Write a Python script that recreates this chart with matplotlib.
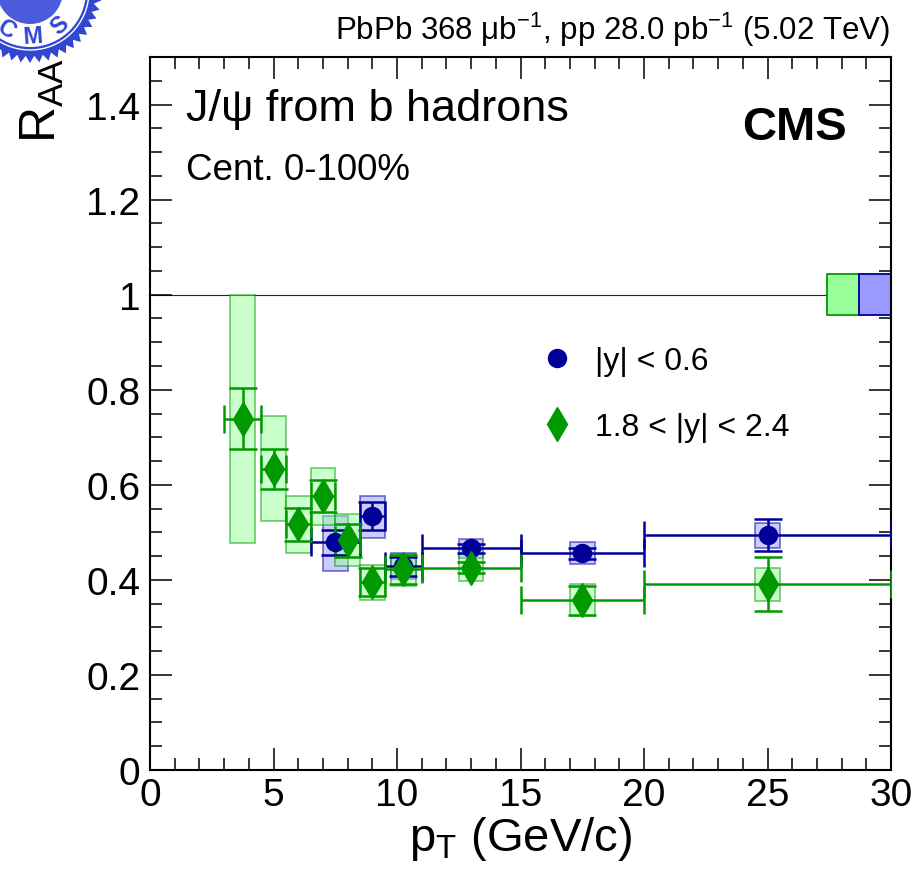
import numpy as np
import matplotlib
matplotlib.use('Agg')
import matplotlib.pyplot as plt
from matplotlib.patches import Rectangle, Polygon, Circle
from matplotlib.lines import Line2D
from matplotlib.ticker import MultipleLocator, FormatStrFormatter

plt.rcParams['font.family'] = ['Liberation Sans', 'DejaVu Sans']
plt.rcParams['mathtext.fontset'] = 'custom'
plt.rcParams['mathtext.rm'] = 'Liberation Sans'
plt.rcParams['mathtext.it'] = 'Liberation Sans'
plt.rcParams['mathtext.bf'] = 'Liberation Sans:bold'
plt.rcParams['mathtext.default'] = 'regular'

# |y| < 0.6
mid_pt = [7.5, 9.0, 10.25, 13.0, 17.5, 25.0]
mid_lo = [6.5, 8.5, 9.5, 11.0, 15.0, 20.0]
mid_hi = [8.5, 9.5, 11.0, 15.0, 20.0, 30.0]
mid_raa = [0.479, 0.534, 0.429, 0.466, 0.456, 0.494]
mid_stat = [0.026, 0.029, 0.020, 0.010, 0.012, 0.033]
mid_sys_lo = [0.418, 0.489, 0.402, 0.446, 0.433, 0.468]
mid_sys_hi = [0.534, 0.576, 0.456, 0.486, 0.479, 0.519]

# 1.8 < |y| < 2.4
fwd_pt = [3.75, 5.0, 6.0, 7.0, 8.0, 9.0, 10.25, 13.0, 17.5, 25.0]
fwd_lo = [3.0, 4.5, 5.5, 6.5, 7.5, 8.5, 9.5, 11.0, 15.0, 20.0]
fwd_hi = [4.5, 5.5, 6.5, 7.5, 8.5, 9.5, 11.0, 15.0, 20.0, 30.0]
fwd_raa = [0.739, 0.634, 0.517, 0.576, 0.483, 0.395, 0.422, 0.426, 0.357, 0.391]
fwd_stat = [0.064, 0.042, 0.035, 0.034, 0.034, 0.029, 0.030, 0.012, 0.030, 0.057]
fwd_sys_lo = [0.477, 0.523, 0.456, 0.515, 0.429, 0.357, 0.387, 0.397, 0.323, 0.355]
fwd_sys_hi = [1.000, 0.744, 0.576, 0.636, 0.538, 0.431, 0.454, 0.454, 0.391, 0.426]

# global uncertainties (drawn at R_AA = 1)
mid_glob = 0.043
fwd_glob = 0.043

blue = '#000099'
green = '#009900'

fig = plt.figure(figsize=(9.19, 8.78), dpi=100)
ax = fig.add_axes([150/919, 1-771/878, 741/919, 713/878])
ax.set_zorder(2)

ax.axhline(1.0, color='#222222', lw=0.8, zorder=1)

# systematic boxes
for x, lo, hi in zip(mid_pt, mid_sys_lo, mid_sys_hi):
    ax.add_patch(Rectangle((x-0.5, lo), 1.0, hi-lo, facecolor='#9999ff', alpha=0.5,
                           edgecolor=blue, lw=1.3, zorder=2))
for x, lo, hi in zip(fwd_pt, fwd_sys_lo, fwd_sys_hi):
    ax.add_patch(Rectangle((x-0.5, lo), 1.0, hi-lo, facecolor='#99ff99', alpha=0.5,
                           edgecolor=green, lw=1.3, zorder=2))

# global boxes at the right edge
ax.add_patch(Rectangle((27.4, 1-fwd_glob), 1.3, 2*fwd_glob, facecolor='#99ff99',
                       edgecolor=green, lw=1.3, zorder=2))
ax.add_patch(Rectangle((28.7, 1-mid_glob), 1.3, 2*mid_glob, facecolor='#9999ff',
                       edgecolor=blue, lw=1.3, zorder=2))

# points with stat errors
mx = np.array(mid_pt)
ax.errorbar(mx, mid_raa, yerr=mid_stat, xerr=[mx-np.array(mid_lo), np.array(mid_hi)-mx],
            fmt='o', color=blue, ms=13, elinewidth=1.8, capsize=10, capthick=1.8, zorder=4)
fx = np.array(fwd_pt)
ax.errorbar(fx, fwd_raa, yerr=fwd_stat, xerr=[fx-np.array(fwd_lo), np.array(fwd_hi)-fx],
            fmt='d', color=green, ms=17, elinewidth=1.8, capsize=10, capthick=1.8, zorder=4)

ax.set_xlim(0, 30)
ax.set_ylim(0, 1.5)
ax.xaxis.set_major_locator(MultipleLocator(5))
ax.xaxis.set_minor_locator(MultipleLocator(1))
ax.yaxis.set_major_locator(MultipleLocator(0.2))
ax.yaxis.set_minor_locator(MultipleLocator(0.05))
ax.yaxis.set_major_formatter(FormatStrFormatter('%g'))
ax.tick_params(which='both', direction='in', top=True, right=True, width=1.1)
ax.tick_params(which='major', length=16, labelsize=28)
ax.tick_params(which='minor', length=8.5)
ax.tick_params(axis='x', pad=5)
ax.tick_params(axis='y', pad=7)
for s in ax.spines.values():
    s.set_linewidth(1.5)

ax.set_xlabel(r'p$_{T}$ (GeV/c)', fontsize=34)
ax.xaxis.set_label_coords(0.5, -0.062)
ax.set_ylabel(r'R$_{AA}$', fontsize=36, loc='top')
ax.yaxis.set_label_coords(-0.113, 1.0)

ax.text(0.0486, 0.9116, 'J/ψ from b hadrons', transform=ax.transAxes, fontsize=32.5,
        va='baseline', ha='left')
ax.text(0.0486, 0.829, 'Cent. 0-100%', transform=ax.transAxes, fontsize=26.5,
        va='baseline', ha='left')
ax.text(0.9406, 0.885, 'CMS', transform=ax.transAxes, fontsize=34, fontweight='bold',
        va='baseline', ha='right')

handles = [Line2D([], [], marker='o', ls='none', color=blue, ms=13),
           Line2D([], [], marker='d', ls='none', color=green, ms=17)]
ax.legend(handles, ['|y| < 0.6', '1.8 < |y| < 2.4'], loc='upper left',
          bbox_to_anchor=(0.5277, 0.595), frameon=False, fontsize=23,
          handlelength=1.0, handletextpad=0.69, borderpad=0, borderaxespad=0,
          labelspacing=1.13)

fig.text(890/919, 1-40/878, 'PbPb 368 μb$^{-1}$, pp 28.0 pb$^{-1}$ (5.02 TeV)',
         fontsize=22.5, ha='right', va='baseline')

# CMS seal in the corner
lax = fig.add_axes([0, 0, 1, 1])
lax.set_xlim(0, 919)
lax.set_ylim(878, 0)
lax.axis('off')
lax.set_zorder(1)
seal = '#3246d2'
cx, cy = 30, -8
n = 48
ang = np.linspace(0, 2*np.pi, 2*n, endpoint=False)
rad = np.where(np.arange(2*n) % 2 == 0, 72, 65)
lax.add_patch(Polygon(np.c_[cx+rad*np.cos(ang), cy+rad*np.sin(ang)], closed=True,
                      facecolor=seal, edgecolor='none'))
lax.add_patch(Circle((cx, cy), 59, facecolor='none', edgecolor='white', lw=1.0))
lax.add_patch(Circle((cx, cy), 56, facecolor='white', edgecolor='none'))
lax.add_patch(Circle((cx, cy), 33, facecolor='#4a5cdc', edgecolor='none'))
for ch, a in zip('CMS', [-122, -86, -48]):
    t = np.deg2rad(a)
    lax.text(cx + 45*np.cos(t), cy - 45*np.sin(t), ch, color=seal, fontsize=17,
             fontweight='bold', ha='center', va='center', rotation=a+90)

fig.savefig('out.png', dpi=100)
